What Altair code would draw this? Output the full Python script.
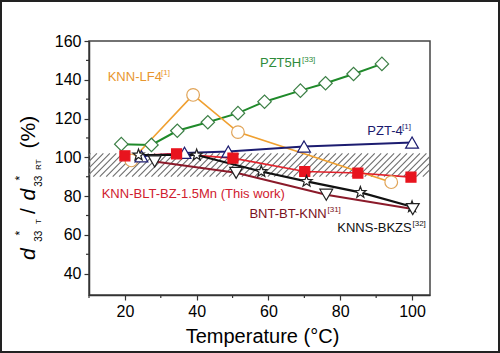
import altair as alt
import pandas as pd
import numpy as np

FONT = "Liberation Sans"

# ---- data ----
pzt5h_x = [19, 27.4, 34.6, 43.1, 51.5, 58.9, 68.9, 75.9, 83.7, 91.6]
pzt5h_y = [106.8, 106.4, 113.7, 118.1, 122.8, 128.7, 134.4, 138.2, 143.0, 148.2]

knnlf4_x = [21.8, 39.0, 51.5, 94.2]
knnlf4_y = [98.4, 132.2, 113.0, 87.2]

pzt4_x = [24.6, 36.6, 48.8, 69.9, 100.0]
pzt4_y = [100.5, 102.3, 103.0, 105.6, 107.6]

knnblt_x = [20.0, 34.4, 50.1, 70.1, 84.9, 99.7]
knnblt_y = [100.8, 101.8, 99.6, 92.7, 91.9, 89.8]

bnt_x = [28.3, 51.0, 76.1, 100.2]
bnt_y = [97.9, 92.0, 80.7, 73.3]

knns_x = [23.8, 40.0, 58.0, 70.6, 85.6, 100.0]
knns_y = [101.2, 101.2, 92.7, 87.6, 81.9, 74.5]

band_low, band_high = 90, 102
x_ticks = [20, 40, 60, 80, 100]
y_ticks = [40, 60, 80, 100, 120, 140, 160]
x_minor = [10, 30, 50, 70, 90]
y_minor = [50, 70, 90, 110, 130, 150]

X_DOMAIN = [10, 105]
Y_DOMAIN = [29, 160]

W, H = 341, 254


def xenc(field="x"):
    return alt.X(f"{field}:Q", title=None,
                 scale=alt.Scale(domain=X_DOMAIN, nice=False, zero=False),
                 axis=alt.Axis(values=x_ticks, grid=False, tickSize=5, labelPadding=3,
                               labelFontSize=16, labelFont=FONT, labelColor="black",
                               domainColor="#333", tickColor="#333", domainWidth=1.5,
                               tickWidth=1.2))


def yenc(field="y"):
    return alt.Y(f"{field}:Q", title=None,
                 scale=alt.Scale(domain=Y_DOMAIN, nice=False, zero=False),
                 axis=alt.Axis(values=y_ticks, grid=False, tickSize=5, labelPadding=3,
                               labelFontSize=16, labelFont=FONT, labelColor="black",
                               domainColor="#333", tickColor="#333", domainWidth=1.5,
                               tickWidth=1.2))


layers = []

# hatched band (decorative diagonal lines)
x0 = np.arange(-5, 110, 1.8)
hatch = pd.DataFrame({"x": x0, "x2": x0 + 6.4, "y": band_low, "y2": band_high})
layers.append(alt.Chart(hatch).mark_rule(color="#6e6e6e", strokeWidth=1.1, clip=True).encode(
    x=xenc(), x2="x2:Q", y=yenc(), y2="y2:Q"))


def series(xs, ys, line_color, shape, size, stroke, fill, lw=2, sw=1.2):
    df = pd.DataFrame({"x": xs, "y": ys})
    line = alt.Chart(df).mark_line(color=line_color, strokeWidth=lw).encode(x=xenc(), y=yenc())
    pts = alt.Chart(df).mark_point(shape=shape, size=size, stroke=stroke, fill=fill,
                                   filled=True, strokeWidth=sw, opacity=1).encode(x=xenc(), y=yenc())
    return line, pts


STAR = "M0,-1L0.24,-0.33L0.95,-0.31L0.39,0.13L0.59,0.81L0,0.41L-0.59,0.81L-0.39,0.13L-0.95,-0.31L-0.24,-0.33Z"
lines, points = [], []
for args in [
    (pzt5h_x, pzt5h_y, "#1f8a2a", "diamond", 180, "#3b7f45", "white", 2),
    (knnlf4_x, knnlf4_y, "#f0a030", "circle", 160, "#e0a458", "white", 1.6),
    (pzt4_x, pzt4_y, "#1c1c70", "triangle-up", 165, "#1c1c70", "white", 2),
    (knnblt_x, knnblt_y, "#e0202a", "square", 100, "#e8141e", "#e8141e", 1.6),
    (knns_x, knns_y, "#111111", STAR, 140, "#222", "white", 2.2),
    (bnt_x, bnt_y, "#8b1a2a", "triangle-down", 165, "#222", "white", 2),
]:
    l, p = series(*args)
    lines.append(l)
    points.append(p)

layers += lines + points

# minor ticks
layers.append(alt.Chart(pd.DataFrame({"x": x_minor})).mark_rule(color="#333", strokeWidth=1.2).encode(
    x=xenc(), y=alt.value(H), y2=alt.value(H + 3)))
layers.append(alt.Chart(pd.DataFrame({"y": y_minor})).mark_rule(color="#333", strokeWidth=1.2).encode(
    y=yenc(), x=alt.value(-3), x2=alt.value(0)))


def txt(s, x, y, size, color="black", align="left", angle=0, italic=False):
    return alt.Chart(pd.DataFrame({"t": [s]})).mark_text(
        align=align, baseline="alphabetic", fontSize=size, color=color, angle=angle,
        font=FONT, fontStyle="italic" if italic else "normal").encode(
        x=alt.value(x), y=alt.value(y), text="t:N")


# series labels
layers += [
    txt("KNN-LF4", 18.7, 39.7, 13, "#e8962e"),
    txt("[1]", 72, 34, 8, "#e8962e"),
    txt("PZT5H", 171, 26, 13, "#2e8b3a"),
    txt("[33]", 213, 21, 8, "#2e8b3a"),
    txt("PZT-4", 278.3, 94, 13, "#1a1a6e"),
    txt("[1]", 313, 88, 8, "#1a1a6e"),
    txt("KNN-BLT-BZ-1.5Mn (This work)", 12.7, 156.5, 13, "#d0202e"),
    txt("BNT-BT-KNN", 237.7, 177, 13, "#7a1020", align="right"),
    txt("[31]", 238.5, 171, 8, "#7a1020"),
    txt("KNNS-BKZS", 322.7, 191, 13, "#111", align="right"),
    txt("[32]", 323.5, 185, 8, "#111"),
]

# axis titles
layers.append(txt("Temperature (°C)", 173.5, 302, 20, align="center"))
layers += [
    txt("d", -54, 219, 21, angle=270, italic=True),
    txt("33", -46.7, 200.7, 10, angle=270),
    txt("*", -64.6, 194.6, 12, angle=270),
    txt("T", -48.3, 183, 8, angle=270),
    txt("/", -54, 173, 21, angle=270),
    txt("d", -54, 159.5, 21, angle=270, italic=True),
    txt("33", -46.7, 145.7, 10, angle=270),
    txt("*", -64.6, 139.6, 12, angle=270),
    txt("RT", -48.3, 129, 8, angle=270),
    txt("(%)", -54, 107.5, 21, angle=270),
]

# outer frame of the picture
layers.append(alt.Chart(pd.DataFrame({"a": [0]})).mark_rect(
    fill=None, stroke="#222", strokeWidth=2, clip=False).encode(
    x=alt.value(-88), x2=alt.value(410), y=alt.value(-40), y2=alt.value(311)))

chart = alt.layer(*layers).properties(
    width=W, height=H,
    autosize=alt.AutoSizeParams(type="none"),
    padding={"left": 89, "top": 41, "right": 70, "bottom": 58},
    background="white",
).configure_view(stroke="#444", strokeWidth=1.5)

chart.save("out.html", embed_options={"renderer": "svg", "actions": False})
